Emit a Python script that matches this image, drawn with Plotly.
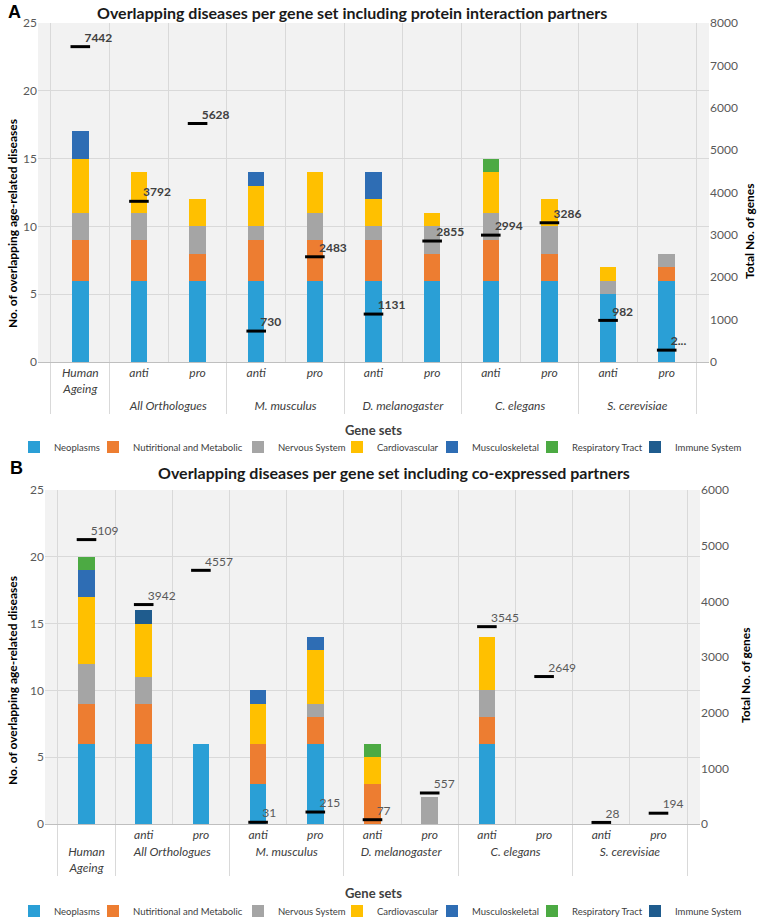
import plotly.graph_objects as go

W, H = 760, 919

disease_names = ["Neoplasms", "Nutiritional and Metabolic", "Nervous System", "Cardiovascular",
                 "Musculoskeletal", "Respiratory Tract", "Immune System"]
disease_colors = ["#2A9FD6", "#ED7D31", "#A5A5A5", "#FFC000", "#2E6DB4", "#4CAA43", "#1F5C8E"]

# ---------- Panel A: protein interaction partners ----------
groups_a = [" ", "All Orthologues", "All Orthologues", "M. musculus", "M. musculus",
            "D. melanogaster", "D. melanogaster", "C. elegans", "C. elegans",
            "S. cerevisiae", "S. cerevisiae"]
subsets_a = ["Human<br>Ageing", "anti", "pro", "anti", "pro", "anti", "pro", "anti", "pro", "anti", "pro"]
neoplasms_a = [6, 6, 6, 6, 6, 6, 6, 6, 6, 5, 6]
nutritional_a = [3, 3, 2, 3, 3, 3, 2, 3, 2, 0, 1]
nervous_a = [2, 2, 2, 1, 2, 1, 2, 2, 2, 1, 1]
cardio_a = [4, 3, 2, 3, 3, 2, 1, 3, 2, 1, 0]
musculo_a = [2, 0, 0, 1, 0, 2, 0, 0, 0, 0, 0]
resp_a = [0, 0, 0, 0, 0, 0, 0, 1, 0, 0, 0]
immune_a = [0, 0, 0, 0, 0, 0, 0, 0, 0, 0, 0]
genes_a = [7442, 3792, 5628, 730, 2483, 1131, 2855, 2994, 3286, 982, 280]
gene_labels_a = ["7442", "3792", "5628", "730", "2483", "1131", "2855", "2994", "3286", "982", "2..."]

# ---------- Panel B: co-expressed partners ----------
groups_b = ["Human<br>Ageing", "All Orthologues", "All Orthologues", "M. musculus", "M. musculus",
            "D. melanogaster", "D. melanogaster", "C. elegans", "C. elegans",
            "S. cerevisiae", "S. cerevisiae"]
subsets_b = [" ", "anti", "pro", "anti", "pro", "anti", "pro", "anti", "pro", "anti", "pro"]
neoplasms_b = [6, 6, 6, 3, 6, 0, 0, 6, 0, 0, 0]
nutritional_b = [3, 3, 0, 3, 2, 3, 0, 2, 0, 0, 0]
nervous_b = [3, 2, 0, 0, 1, 0, 2, 2, 0, 0, 0]
cardio_b = [5, 4, 0, 3, 4, 2, 0, 4, 0, 0, 0]
musculo_b = [2, 0, 0, 1, 1, 0, 0, 0, 0, 0, 0]
resp_b = [1, 0, 0, 0, 0, 1, 0, 0, 0, 0, 0]
immune_b = [0, 1, 0, 0, 0, 0, 0, 0, 0, 0, 0]
genes_b = [5109, 3942, 4557, 31, 215, 77, 557, 3545, 2649, 28, 194]
gene_labels_b = ["5109", "3942", "4557", "31", "215", "77", "557", "3545", "2649", "28", "194"]

series_a = [neoplasms_a, nutritional_a, nervous_a, cardio_a, musculo_a, resp_a, immune_a]
series_b = [neoplasms_b, nutritional_b, nervous_b, cardio_b, musculo_b, resp_b, immune_b]

# legend symbol centres (px)
legend_symbol_x = [34, 113, 258, 357, 452, 552, 655]

FONT = "Lato, 'Open Sans', sans-serif"
TICK = "#595959"
GRID = "#D9D9D9"
BG = "#F2F2F2"


def px(x):
    return x / W


def py(y):
    return 1 - y / H


def legend_id(k):
    return "legend" if k == 0 else "legend%d" % (k + 1)


fig = go.Figure()


def add_gene_traces(xcat, genes, labels, xa, ya, bold):
    # dash markers for the total number of genes
    fig.add_trace(go.Scatter(x=xcat, y=genes, mode="markers",
                             marker=dict(symbol="line-ew", size=14,
                                         line=dict(width=3, color="black")),
                             xaxis=xa, yaxis=ya, showlegend=False, cliponaxis=False,
                             hoverinfo="y"))
    # value labels (raised half a line above the dash)
    fig.add_trace(go.Scatter(x=xcat, y=genes, mode="markers+text",
                             text=[lab + "<br> " for lab in labels],
                             textposition="middle right",
                             textfont=dict(family=FONT, size=12,
                                           color="#404040" if bold else "#595959",
                                           weight="bold" if bold else "normal"),
                             marker=dict(size=5, color="rgba(0,0,0,0)", line=dict(width=0)),
                             xaxis=xa, yaxis=ya, showlegend=False, cliponaxis=False,
                             hoverinfo="skip"))


for i, (name, col, vals) in enumerate(zip(disease_names, disease_colors, series_a)):
    fig.add_trace(go.Bar(x=[groups_a, subsets_a], y=vals, name=name, marker_color=col,
                         marker_line_width=0, width=0.28, xaxis="x", yaxis="y",
                         legend=legend_id(i)))
add_gene_traces([groups_a, subsets_a], genes_a, gene_labels_a, "x", "y2", True)

for i, (name, col, vals) in enumerate(zip(disease_names, disease_colors, series_b)):
    fig.add_trace(go.Bar(x=[groups_b, subsets_b], y=vals, name=name, marker_color=col,
                         marker_line_width=0, width=0.29, xaxis="x2", yaxis="y3",
                         legend=legend_id(i + 7)))
add_gene_traces([groups_b, subsets_b], genes_b, gene_labels_b, "x2", "y4", False)

xcommon = dict(type="multicategory", showgrid=True, gridcolor=GRID, tickson="boundaries",
               showline=True, linecolor="#BFBFBF", ticks="", showdividers=True,
               dividercolor=GRID, dividerwidth=1,
               tickfont=dict(family=FONT, size=12, color="#404040", style="italic"))
ycommon = dict(range=[0, 25], dtick=5, showgrid=True, gridcolor=GRID, zeroline=False,
               tickfont=dict(family=FONT, size=12, color=TICK), ticks="")

layout = dict(
    width=W, height=H,
    margin=dict(l=0, r=0, t=0, b=0, autoexpand=False),
    paper_bgcolor="white", plot_bgcolor=BG,
    barmode="stack",
    font=dict(family=FONT, size=12, color="#404040"),
    xaxis=dict(domain=[px(38), px(709)], anchor="y", **xcommon),
    yaxis=dict(domain=[py(362), py(23)], anchor="x", **ycommon),
    yaxis2=dict(overlaying="y", side="right", anchor="x", range=[0, 8000], dtick=1000,
                showgrid=False, zeroline=False, ticks="",
                tickfont=dict(family=FONT, size=12, color=TICK)),
    xaxis2=dict(domain=[px(45), px(700)], anchor="y3", **xcommon),
    yaxis3=dict(domain=[py(824), py(490)], anchor="x2", **ycommon),
    yaxis4=dict(overlaying="y3", side="right", anchor="x2", range=[0, 6000], dtick=1000,
                showgrid=False, zeroline=False, ticks="",
                tickfont=dict(family=FONT, size=12, color=TICK)),
)

for k in range(14):
    ypix = 447 if k < 7 else 911
    layout[legend_id(k)] = dict(
        orientation="h", x=px(legend_symbol_x[k % 7] - 20), xanchor="left",
        y=py(ypix), yanchor="middle", bgcolor="rgba(0,0,0,0)", borderwidth=0,
        font=dict(family=FONT, size=9.5, color="#404040"), itemclick=False,
        itemdoubleclick=False)

fig.update_layout(**layout)

ann = []
ann.append(dict(text="<b>A</b>", x=px(6), y=py(12), xanchor="left", yanchor="middle",
                font=dict(family="Liberation Sans, Arial", size=18, color="black")))
ann.append(dict(text="<b>Overlapping diseases per gene set including protein interaction partners</b>",
                x=px(352), y=py(12), xanchor="center", yanchor="middle",
                font=dict(family=FONT, size=16, color="#1A1A1A")))
ann.append(dict(text="<b>No. of overlapping age-related diseases</b>", x=px(12), y=py(224),
                textangle=-90, xanchor="center", yanchor="middle",
                font=dict(family=FONT, size=12, color="black")))
ann.append(dict(text="<b>Total No. of genes</b>", x=px(750), y=py(231),
                textangle=-90, xanchor="center", yanchor="middle",
                font=dict(family=FONT, size=12, color="black")))
ann.append(dict(text="<b>Gene sets</b>", x=px(373), y=py(430), xanchor="center", yanchor="middle",
                font=dict(family=FONT, size=13, color="#404040")))

ann.append(dict(text="<b>B</b>", x=px(8), y=py(468), xanchor="left", yanchor="middle",
                font=dict(family="Liberation Sans, Arial", size=18, color="black")))
ann.append(dict(text="<b>Overlapping diseases per gene set including co-expressed partners</b>",
                x=px(394), y=py(472), xanchor="center", yanchor="middle",
                font=dict(family=FONT, size=16, color="#1A1A1A")))
ann.append(dict(text="<b>No. of overlapping age-related diseases</b>", x=px(12), y=py(681),
                textangle=-90, xanchor="center", yanchor="middle",
                font=dict(family=FONT, size=12, color="black")))
ann.append(dict(text="<b>Total No. of genes</b>", x=px(745), y=py(675),
                textangle=-90, xanchor="center", yanchor="middle",
                font=dict(family=FONT, size=12, color="black")))
ann.append(dict(text="<b>Gene sets</b>", x=px(373), y=py(893), xanchor="center", yanchor="middle",
                font=dict(family=FONT, size=13, color="#404040")))

for a in ann:
    a.update(xref="paper", yref="paper", showarrow=False)
fig.update_layout(annotations=ann)

fig.write_html("out.html", config={"displayModeBar": False},
               post_script="document.body.style.margin='0px';")
